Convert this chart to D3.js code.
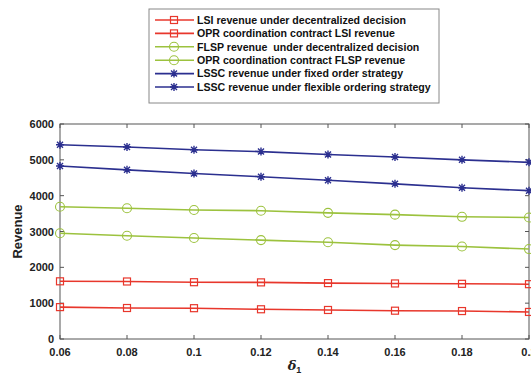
<!DOCTYPE html>
<html>
<head>
<meta charset="utf-8">
<script src="https://cdn.jsdelivr.net/npm/d3@7"></script>
<style>
  body { margin: 0; background: #fff; }
  svg { font-family: "Liberation Sans", Arial, sans-serif; font-weight: bold; }
</style>
</head>
<body>
<script>
// x values (delta_1)
var deltas = [0.06, 0.08, 0.1, 0.12, 0.14, 0.16, 0.18, 0.2];
var xTickLabels = ["0.06", "0.08", "0.1", "0.12", "0.14", "0.16", "0.18", "0.2"];
var yTicks = [0, 1000, 2000, 3000, 4000, 5000, 6000];

// series values
var lsiDecentral   = [890, 865, 860, 830, 810, 790, 780, 755];
var oprLsi         = [1610, 1605, 1585, 1580, 1560, 1550, 1540, 1530];
var flspDecentral  = [2950, 2880, 2820, 2760, 2700, 2620, 2580, 2510];
var oprFlsp        = [3690, 3650, 3600, 3580, 3520, 3470, 3410, 3390];
var lsscFixed      = [4830, 4720, 4620, 4530, 4430, 4330, 4220, 4140];
var lsscFlexible   = [5420, 5360, 5280, 5230, 5150, 5080, 5000, 4930];

var seriesNames = [
  "LSI revenue under decentralized decision",
  "OPR coordination contract LSI revenue",
  "FLSP revenue  under decentralized decision",
  "OPR coordination contract FLSP revenue",
  "LSSC revenue under fixed order strategy",
  "LSSC revenue under flexible ordering strategy"
];

var red = "#e8372c", green = "#9cc23e", blue = "#2b2f8f";
var series = [
  { name: seriesNames[0], values: lsiDecentral,  color: red,   marker: "square" },
  { name: seriesNames[1], values: oprLsi,        color: red,   marker: "square" },
  { name: seriesNames[2], values: flspDecentral, color: green, marker: "circle" },
  { name: seriesNames[3], values: oprFlsp,       color: green, marker: "circle" },
  { name: seriesNames[4], values: lsscFixed,     color: blue,  marker: "star" },
  { name: seriesNames[5], values: lsscFlexible,  color: blue,  marker: "star" }
];

var width = 531, height = 380;
// plot box (window.top is reserved, so prefixed names)
var pLeft = 60, pRight = 529, pTop = 124, pBottom = 339;

var svg = d3.select("body").append("svg")
    .attr("width", width)
    .attr("height", height);

var x = d3.scaleLinear().domain([0.06, 0.2]).range([pLeft, pRight]);
var y = d3.scaleLinear().domain([0, 6000]).range([pBottom, pTop]);

// draw a marker of given type centred at (cx, cy)
function drawMarker(g, type, cx, cy, color) {
  if (type == "square") {
    g.append("rect")
      .attr("x", cx - 3.5).attr("y", cy - 3.5)
      .attr("width", 7).attr("height", 7)
      .attr("fill", "none").attr("stroke", color).attr("stroke-width", 1.2);
  } else if (type == "circle") {
    g.append("circle")
      .attr("cx", cx).attr("cy", cy).attr("r", 4.5)
      .attr("fill", "none").attr("stroke", color).attr("stroke-width", 1.1);
  } else {
    var s = 4;
    var d = "M" + (cx - s) + "," + cy + "L" + (cx + s) + "," + cy +
            "M" + cx + "," + (cy - s) + "L" + cx + "," + (cy + s) +
            "M" + (cx - 3) + "," + (cy - 3) + "L" + (cx + 3) + "," + (cy + 3) +
            "M" + (cx - 3) + "," + (cy + 3) + "L" + (cx + 3) + "," + (cy - 3);
    g.append("path").attr("d", d)
      .attr("stroke", color).attr("stroke-width", 1.4).attr("fill", "none");
  }
}

// axes box
svg.append("rect")
  .attr("x", pLeft).attr("y", pTop)
  .attr("width", pRight - pLeft).attr("height", pBottom - pTop)
  .attr("fill", "none").attr("stroke", "#555").attr("stroke-width", 1);

var tickLen = 4;
var ticks = svg.append("g").attr("stroke", "#555").attr("stroke-width", 1);
deltas.forEach(function(d) {
  ticks.append("line").attr("x1", x(d)).attr("x2", x(d)).attr("y1", pBottom).attr("y2", pBottom - tickLen);
  ticks.append("line").attr("x1", x(d)).attr("x2", x(d)).attr("y1", pTop).attr("y2", pTop + tickLen);
});
yTicks.forEach(function(v) {
  ticks.append("line").attr("x1", pLeft).attr("x2", pLeft + tickLen).attr("y1", y(v)).attr("y2", y(v));
  ticks.append("line").attr("x1", pRight).attr("x2", pRight - tickLen).attr("y1", y(v)).attr("y2", y(v));
});

// tick labels
svg.append("g").selectAll("text")
  .data(deltas)
  .enter().append("text")
  .attr("x", function(d) { return x(d); })
  .attr("y", pBottom + 17)
  .attr("text-anchor", "middle")
  .attr("font-size", 11)
  .attr("fill", "#222")
  .text(function(d, i) { return xTickLabels[i]; });

svg.append("g").selectAll("text")
  .data(yTicks)
  .enter().append("text")
  .attr("x", pLeft - 6)
  .attr("y", function(d) { return y(d) + 4; })
  .attr("text-anchor", "end")
  .attr("font-size", 11)
  .attr("fill", "#222")
  .text(function(d) { return d; });

// axis titles
svg.append("text")
  .attr("transform", "translate(22," + ((pTop + pBottom) / 2) + ") rotate(-90)")
  .attr("text-anchor", "middle")
  .attr("font-size", 13)
  .attr("fill", "#222")
  .text("Revenue");

var xl = svg.append("text")
  .attr("x", (pLeft + pRight) / 2)
  .attr("y", 370)
  .attr("text-anchor", "middle")
  .attr("font-size", 13)
  .attr("fill", "#222");
xl.append("tspan").attr("font-style", "italic").attr("font-family", "DejaVu Serif, serif").text("δ");
xl.append("tspan").attr("font-size", 9).attr("dy", 3).text("1");

// lines and markers
var line = d3.line()
  .x(function(d, i) { return x(deltas[i]); })
  .y(function(d) { return y(d); });

series.forEach(function(s) {
  var g = svg.append("g");
  g.append("path")
    .attr("d", line(s.values))
    .attr("fill", "none")
    .attr("stroke", s.color)
    .attr("stroke-width", 1.6);
  s.values.forEach(function(v, i) {
    drawMarker(g, s.marker, x(deltas[i]), y(v), s.color);
  });
});

// legend
var legend = svg.append("g");
legend.append("rect")
  .attr("x", 149).attr("y", 9)
  .attr("width", 290).attr("height", 94)
  .attr("fill", "#fff").attr("stroke", "#888").attr("stroke-width", 1);

series.forEach(function(s, i) {
  var ly = 20 + i * 13.4;
  legend.append("line")
    .attr("x1", 155).attr("x2", 194).attr("y1", ly).attr("y2", ly)
    .attr("stroke", s.color).attr("stroke-width", 1.6);
  drawMarker(legend, s.marker, 174, ly, s.color);
  legend.append("text")
    .attr("x", 197).attr("y", ly + 3.8)
    .attr("font-size", 10.6)
    .attr("fill", "#111")
    .style("white-space", "pre")  // keep the double space in one name
    .text(s.name);
});
</script>
</body>
</html>
